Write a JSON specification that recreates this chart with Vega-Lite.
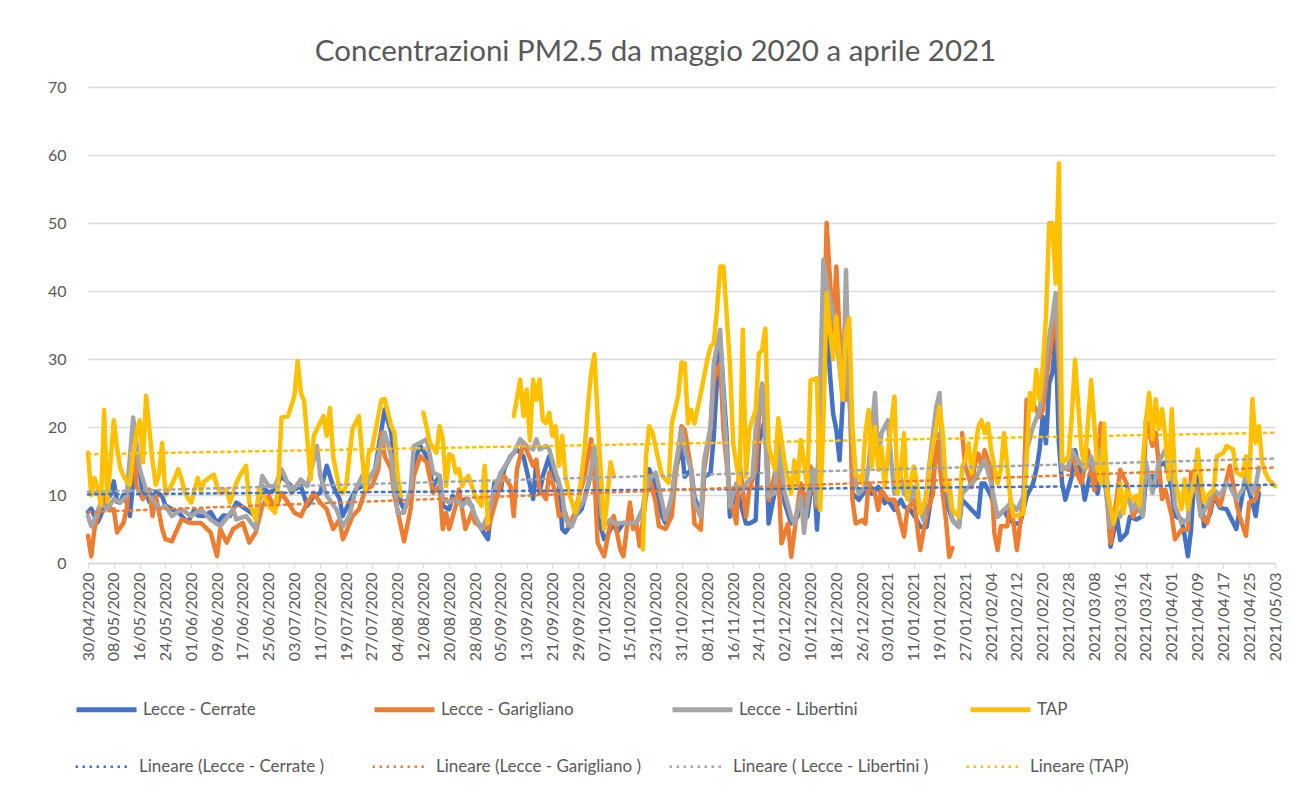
{
"$schema":"https://vega.github.io/schema/vega-lite/v6.json",
"width":1187,"height":476,
"autosize":{"type":"none"},
"padding":{"left":88,"top":87,"right":17,"bottom":236},
"background":"white",
"config":{"view":{"stroke":null},"font":"Lato","axisX":{"labelOverlap":false}},
"title":{"text":"Concentrazioni  PM2.5 da maggio 2020 a aprile 2021","fontSize":29.5,"fontWeight":"normal","color":"#595959","font":"Lato","anchor":"middle","dx":-26,"offset":12},
"data":{"format":{"parse":{"d":"date"}},"values":[
{"s":"C","d":"2020-04-30","v":7.5},{"s":"C","d":"2020-05-01","v":8},{"s":"C","d":"2020-05-02","v":6.9},{"s":"C","d":"2020-05-03","v":6},{"s":"C","d":"2020-05-04","v":7},{"s":"C","d":"2020-05-05","v":8.5},{"s":"C","d":"2020-05-06","v":9.5},{"s":"C","d":"2020-05-07","v":10},{"s":"C","d":"2020-05-08","v":12},{"s":"C","d":"2020-05-09","v":9},{"s":"C","d":"2020-05-10","v":8.9},{"s":"C","d":"2020-05-11","v":10},{"s":"C","d":"2020-05-12","v":8.9},{"s":"C","d":"2020-05-13","v":6.9},{"s":"C","d":"2020-05-14","v":12},{"s":"C","d":"2020-05-15","v":14.8},{"s":"C","d":"2020-05-16","v":13.8},{"s":"C","d":"2020-05-17","v":9.8},{"s":"C","d":"2020-05-18","v":10.5},{"s":"C","d":"2020-05-19","v":9},{"s":"C","d":"2020-05-20","v":8.9},{"s":"C","d":"2020-05-21","v":10.5},{"s":"C","d":"2020-05-23","v":9.8},{"s":"C","d":"2020-05-24","v":8.5},{"s":"C","d":"2020-05-26","v":7.9},{"s":"C","d":"2020-05-28","v":7.5},{"s":"C","d":"2020-05-30","v":6.4},{"s":"C","d":"2020-05-31","v":6},{"s":"C","d":"2020-06-02","v":7.9},{"s":"C","d":"2020-06-03","v":7},{"s":"C","d":"2020-06-05","v":6.9},{"s":"C","d":"2020-06-07","v":7.5},{"s":"C","d":"2020-06-09","v":5.9},{"s":"C","d":"2020-06-11","v":7},{"s":"C","d":"2020-06-13","v":6.9},{"s":"C","d":"2020-06-14","v":7.9},{"s":"C","d":"2020-06-15","v":8.9},{"s":"C","d":"2020-06-18","v":7.9},{"s":"C","d":"2020-06-21","v":6.9},{"s":"C","d":"2020-06-23","v":11.3},{"s":"C","d":"2020-06-25","v":10.3},{"s":"C","d":"2020-06-27","v":10.8},{"s":"C","d":"2020-06-29","v":12.8},{"s":"C","d":"2020-07-01","v":11.8},{"s":"C","d":"2020-07-03","v":10.8},{"s":"C","d":"2020-07-05","v":11.3},{"s":"C","d":"2020-07-07","v":8.4},{"s":"C","d":"2020-07-09","v":9.9},{"s":"C","d":"2020-07-11","v":10.3},{"s":"C","d":"2020-07-13","v":14.3},{"s":"C","d":"2020-07-15","v":11.3},{"s":"C","d":"2020-07-17","v":9.4},{"s":"C","d":"2020-07-18","v":6.9},{"s":"C","d":"2020-07-20","v":8.9},{"s":"C","d":"2020-07-22","v":10.8},{"s":"C","d":"2020-07-24","v":11.3},{"s":"C","d":"2020-07-26","v":12.3},{"s":"C","d":"2020-07-28","v":13.8},{"s":"C","d":"2020-07-30","v":19.7},{"s":"C","d":"2020-07-31","v":22.6},{"s":"C","d":"2020-08-02","v":19.2},{"s":"C","d":"2020-08-03","v":14.8},{"s":"C","d":"2020-08-05","v":8.9},{"s":"C","d":"2020-08-06","v":7.9},{"s":"C","d":"2020-08-08","v":9.9},{"s":"C","d":"2020-08-09","v":14.8},{"s":"C","d":"2020-08-11","v":17.2},{"s":"C","d":"2020-08-13","v":15.7},{"s":"C","d":"2020-08-15","v":11.3},{"s":"C","d":"2020-08-17","v":12.8},{"s":"C","d":"2020-08-18","v":8.4},{"s":"C","d":"2020-08-20","v":7.9},{"s":"C","d":"2020-08-21","v":9.9},{"s":"C","d":"2020-08-23","v":8.9},{"s":"C","d":"2020-08-25","v":9.4},{"s":"C","d":"2020-08-27","v":8.4},{"s":"C","d":"2020-08-28","v":6.4},{"s":"C","d":"2020-08-30","v":5},{"s":"C","d":"2020-09-01","v":3.5},{"s":"C","d":"2020-09-02","v":7.9},{"s":"C","d":"2020-09-03","v":11.8},{"s":"C","d":"2020-09-05","v":10.8},{"s":"C","d":"2020-09-06","v":13.8},{"s":"C","d":"2020-09-08","v":15.7},{"s":"C","d":"2020-09-10","v":16.7},{"s":"C","d":"2020-09-12","v":15.7},{"s":"C","d":"2020-09-15","v":9.4},{"s":"C","d":"2020-09-16","v":14.8},{"s":"C","d":"2020-09-17","v":10.3},{"s":"C","d":"2020-09-18","v":12.8},{"s":"C","d":"2020-09-20","v":15.7},{"s":"C","d":"2020-09-21","v":12.8},{"s":"C","d":"2020-09-23","v":11.8},{"s":"C","d":"2020-09-24","v":5},{"s":"C","d":"2020-09-25","v":4.5},{"s":"C","d":"2020-09-27","v":5.9},{"s":"C","d":"2020-09-28","v":6.9},{"s":"C","d":"2020-09-30","v":7.9},{"s":"C","d":"2020-10-02","v":11.3},{"s":"C","d":"2020-10-04","v":15.7},{"s":"C","d":"2020-10-05","v":6.9},{"s":"C","d":"2020-10-07","v":3.5},{"s":"C","d":"2020-10-08","v":4},{"s":"C","d":"2020-10-10","v":5.9},{"s":"C","d":"2020-10-11","v":4.5},{"s":"C","d":"2020-10-13","v":5.9},{"s":"C","d":"2020-10-14","v":5.9},{"s":"C","d":"2020-10-17","v":5.9},{"s":"C","d":"2020-10-19","v":7.9},{"s":"C","d":"2020-10-21","v":13.8},{"s":"C","d":"2020-10-23","v":11.3},{"s":"C","d":"2020-10-25","v":6.9},{"s":"C","d":"2020-10-26","v":5.9},{"s":"C","d":"2020-10-28","v":9.4},{"s":"C","d":"2020-10-29","v":13.3},{"s":"C","d":"2020-10-31","v":17.2},{"s":"C","d":"2020-11-01","v":12.7},{"s":"C","d":"2020-11-03","v":13.7},{"s":"C","d":"2020-11-04","v":9.8},{"s":"C","d":"2020-11-06","v":6.8},{"s":"C","d":"2020-11-07","v":12.7},{"s":"C","d":"2020-11-09","v":13.2},{"s":"C","d":"2020-11-10","v":18.6},{"s":"C","d":"2020-11-11","v":26.9},{"s":"C","d":"2020-11-12","v":32.8},{"s":"C","d":"2020-11-14","v":18.6},{"s":"C","d":"2020-11-15","v":6.8},{"s":"C","d":"2020-11-17","v":11.2},{"s":"C","d":"2020-11-18","v":9.3},{"s":"C","d":"2020-11-20","v":5.8},{"s":"C","d":"2020-11-21","v":5.8},{"s":"C","d":"2020-11-23","v":6.3},{"s":"C","d":"2020-11-24","v":17.6},{"s":"C","d":"2020-11-26","v":21.5},{"s":"C","d":"2020-11-27","v":5.8},{"s":"C","d":"2020-11-29","v":10.7},{"s":"C","d":"2020-11-30","v":16.6},{"s":"C","d":"2020-12-02","v":8.8},{"s":"C","d":"2020-12-04","v":5.8},{"s":"C","d":"2020-12-06","v":6.8},{"s":"C","d":"2020-12-07","v":9.8},{"s":"C","d":"2020-12-09","v":6.8},{"s":"C","d":"2020-12-11","v":13.7},{"s":"C","d":"2020-12-12","v":4.9},{"s":"C","d":"2020-12-13","v":13.7},{"s":"C","d":"2020-12-15","v":36},{"s":"C","d":"2020-12-16","v":28},{"s":"C","d":"2020-12-17","v":22},{"s":"C","d":"2020-12-18","v":19.6},{"s":"C","d":"2020-12-19","v":15.1},{"s":"C","d":"2020-12-20","v":24},{"s":"C","d":"2020-12-22","v":32.3},{"s":"C","d":"2020-12-23","v":10.2},{"s":"C","d":"2020-12-25","v":9.3},{"s":"C","d":"2020-12-27","v":10.7},{"s":"C","d":"2020-12-28","v":11.7},{"s":"C","d":"2020-12-29","v":10.2},{"s":"C","d":"2020-12-31","v":11.2},{"s":"C","d":"2021-01-02","v":8.8},{"s":"C","d":"2021-01-03","v":9.3},{"s":"C","d":"2021-01-05","v":7.8},{"s":"C","d":"2021-01-07","v":9.3},{"s":"C","d":"2021-01-08","v":8.3},{"s":"C","d":"2021-01-10","v":7.8},{"s":"C","d":"2021-01-12","v":6.3},{"s":"C","d":"2021-01-13","v":5.3},{"s":"C","d":"2021-01-15","v":5.3},{"s":"C","d":"2021-01-17","v":11.7},{"s":"C","d":"2021-01-18","v":19.1},{"s":"C","d":"2021-01-20","v":14.2},{"s":"C","d":"2021-01-21","v":9.3},{"s":"C","d":"2021-01-23","v":6.3},{"s":"C","d":"2021-01-25","v":5.3},{"s":"C","d":"2021-01-26","v":9.3},{"s":"C","d":"2021-01-28","v":8.3},{"s":"C","d":"2021-01-29","v":7.8},{"s":"C","d":"2021-01-31","v":6.8},{"s":"C","d":"2021-02-01","v":11.7},{"s":"C","d":"2021-02-02","v":11.7},{"s":"C","d":"2021-02-04","v":9.8},{"s":"C","d":"2021-02-06","v":6.8},{"s":"C","d":"2021-02-08","v":7.8},{"s":"C","d":"2021-02-09","v":6.8},{"s":"C","d":"2021-02-11","v":5.8},{"s":"C","d":"2021-02-13","v":5.8},{"s":"C","d":"2021-02-15","v":9.8},{"s":"C","d":"2021-02-17","v":11.7},{"s":"C","d":"2021-02-18","v":13.7},{"s":"C","d":"2021-02-19","v":16.6},{"s":"C","d":"2021-02-20","v":21.5},{"s":"C","d":"2021-02-21","v":17.6},{"s":"C","d":"2021-02-22","v":26.4},{"s":"C","d":"2021-02-23","v":28},{"s":"C","d":"2021-02-24","v":33.3},{"s":"C","d":"2021-02-25","v":17.6},{"s":"C","d":"2021-02-26","v":11.7},{"s":"C","d":"2021-02-27","v":9.3},{"s":"C","d":"2021-03-01","v":12.7},{"s":"C","d":"2021-03-02","v":16.6},{"s":"C","d":"2021-03-04","v":12.7},{"s":"C","d":"2021-03-05","v":9.3},{"s":"C","d":"2021-03-07","v":13.7},{"s":"C","d":"2021-03-09","v":10.2},{"s":"C","d":"2021-03-11","v":16.6},{"s":"C","d":"2021-03-12","v":11.7},{"s":"C","d":"2021-03-13","v":2.4},{"s":"C","d":"2021-03-15","v":6.8},{"s":"C","d":"2021-03-16","v":3.4},{"s":"C","d":"2021-03-18","v":4.4},{"s":"C","d":"2021-03-19","v":6.8},{"s":"C","d":"2021-03-21","v":6.4},{"s":"C","d":"2021-03-23","v":6.9},{"s":"C","d":"2021-03-24","v":12.3},{"s":"C","d":"2021-03-26","v":12.8},{"s":"C","d":"2021-03-27","v":11.3},{"s":"C","d":"2021-03-28","v":14.3},{"s":"C","d":"2021-03-30","v":14.8},{"s":"C","d":"2021-04-01","v":10.8},{"s":"C","d":"2021-04-02","v":6.9},{"s":"C","d":"2021-04-04","v":6.4},{"s":"C","d":"2021-04-05","v":4},{"s":"C","d":"2021-04-06","v":1},{"s":"C","d":"2021-04-07","v":5},{"s":"C","d":"2021-04-08","v":13.3},{"s":"C","d":"2021-04-10","v":11.3},{"s":"C","d":"2021-04-11","v":5.4},{"s":"C","d":"2021-04-13","v":7.4},{"s":"C","d":"2021-04-14","v":9.9},{"s":"C","d":"2021-04-16","v":8.1},{"s":"C","d":"2021-04-18","v":7.9},{"s":"C","d":"2021-04-19","v":6.9},{"s":"C","d":"2021-04-21","v":5},{"s":"C","d":"2021-04-23","v":10.3},{"s":"C","d":"2021-04-24","v":12.3},{"s":"C","d":"2021-04-26","v":8.9},{"s":"C","d":"2021-04-27","v":6.9},{"s":"C","d":"2021-04-28","v":10.3},
{"s":"G","d":"2020-04-30","v":4},{"s":"G","d":"2020-05-01","v":1},{"s":"G","d":"2020-05-02","v":5},{"s":"G","d":"2020-05-03","v":6.9},{"s":"G","d":"2020-05-05","v":9.9},{"s":"G","d":"2020-05-07","v":7.9},{"s":"G","d":"2020-05-08","v":7.9},{"s":"G","d":"2020-05-09","v":4.5},{"s":"G","d":"2020-05-11","v":5.9},{"s":"G","d":"2020-05-12","v":7.9},{"s":"G","d":"2020-05-14","v":19.2},{"s":"G","d":"2020-05-15","v":11.3},{"s":"G","d":"2020-05-17","v":9.4},{"s":"G","d":"2020-05-19","v":10.8},{"s":"G","d":"2020-05-20","v":6.9},{"s":"G","d":"2020-05-21","v":9.9},{"s":"G","d":"2020-05-23","v":5},{"s":"G","d":"2020-05-24","v":3.5},{"s":"G","d":"2020-05-26","v":3.2},{"s":"G","d":"2020-05-29","v":6.4},{"s":"G","d":"2020-06-01","v":5.9},{"s":"G","d":"2020-06-04","v":5.9},{"s":"G","d":"2020-06-07","v":4.5},{"s":"G","d":"2020-06-09","v":1},{"s":"G","d":"2020-06-10","v":5},{"s":"G","d":"2020-06-12","v":3},{"s":"G","d":"2020-06-14","v":5},{"s":"G","d":"2020-06-17","v":5.9},{"s":"G","d":"2020-06-19","v":3},{"s":"G","d":"2020-06-21","v":4.5},{"s":"G","d":"2020-06-23","v":8.4},{"s":"G","d":"2020-06-25","v":9.9},{"s":"G","d":"2020-06-27","v":7.9},{"s":"G","d":"2020-06-29","v":10.3},{"s":"G","d":"2020-07-01","v":8.9},{"s":"G","d":"2020-07-03","v":7.4},{"s":"G","d":"2020-07-05","v":6.9},{"s":"G","d":"2020-07-07","v":8.9},{"s":"G","d":"2020-07-09","v":10.3},{"s":"G","d":"2020-07-11","v":8.9},{"s":"G","d":"2020-07-13","v":7.9},{"s":"G","d":"2020-07-15","v":5},{"s":"G","d":"2020-07-17","v":6.4},{"s":"G","d":"2020-07-18","v":3.5},{"s":"G","d":"2020-07-19","v":4.5},{"s":"G","d":"2020-07-21","v":6.9},{"s":"G","d":"2020-07-23","v":7.9},{"s":"G","d":"2020-07-25","v":10.8},{"s":"G","d":"2020-07-27","v":11.3},{"s":"G","d":"2020-07-29","v":13.8},{"s":"G","d":"2020-07-30","v":19.2},{"s":"G","d":"2020-07-31","v":15.7},{"s":"G","d":"2020-08-02","v":13.8},{"s":"G","d":"2020-08-03","v":9.9},{"s":"G","d":"2020-08-05","v":5.4},{"s":"G","d":"2020-08-06","v":3.2},{"s":"G","d":"2020-08-08","v":7.9},{"s":"G","d":"2020-08-09","v":12.8},{"s":"G","d":"2020-08-11","v":15.7},{"s":"G","d":"2020-08-13","v":14.8},{"s":"G","d":"2020-08-15","v":10.3},{"s":"G","d":"2020-08-17","v":11.3},{"s":"G","d":"2020-08-18","v":5},{"s":"G","d":"2020-08-19","v":7.4},{"s":"G","d":"2020-08-20","v":5},{"s":"G","d":"2020-08-22","v":8.4},{"s":"G","d":"2020-08-23","v":10.8},{"s":"G","d":"2020-08-25","v":5},{"s":"G","d":"2020-08-27","v":7.4},{"s":"G","d":"2020-08-28","v":5.9},{"s":"G","d":"2020-08-30","v":5.4},{"s":"G","d":"2020-09-01","v":5},{"s":"G","d":"2020-09-03","v":8.4},{"s":"G","d":"2020-09-05","v":11.8},{"s":"G","d":"2020-09-06","v":12.8},{"s":"G","d":"2020-09-08","v":11.3},{"s":"G","d":"2020-09-09","v":6.9},{"s":"G","d":"2020-09-10","v":13.8},{"s":"G","d":"2020-09-12","v":17.7},{"s":"G","d":"2020-09-15","v":14.3},{"s":"G","d":"2020-09-16","v":15.2},{"s":"G","d":"2020-09-17","v":10.8},{"s":"G","d":"2020-09-19","v":9.4},{"s":"G","d":"2020-09-20","v":13.3},{"s":"G","d":"2020-09-22","v":10.3},{"s":"G","d":"2020-09-23","v":6.9},{"s":"G","d":"2020-09-25","v":7.4},{"s":"G","d":"2020-09-26","v":5.4},{"s":"G","d":"2020-09-28","v":7.4},{"s":"G","d":"2020-09-29","v":9.4},{"s":"G","d":"2020-10-01","v":12.8},{"s":"G","d":"2020-10-03","v":18.2},{"s":"G","d":"2020-10-04","v":12.8},{"s":"G","d":"2020-10-05","v":3},{"s":"G","d":"2020-10-07","v":1},{"s":"G","d":"2020-10-09","v":5.9},{"s":"G","d":"2020-10-10","v":6.9},{"s":"G","d":"2020-10-12","v":2},{"s":"G","d":"2020-10-13","v":1},{"s":"G","d":"2020-10-15","v":8.9},{"s":"G","d":"2020-10-16","v":5},{"s":"G","d":"2020-10-17","v":5.9},{"s":"G","d":"2020-10-18","v":2.5},{"s":"G","d":"2020-10-20","v":9.9},{"s":"G","d":"2020-10-21","v":12.8},{"s":"G","d":"2020-10-23","v":8.9},{"s":"G","d":"2020-10-24","v":5.4},{"s":"G","d":"2020-10-26","v":5},{"s":"G","d":"2020-10-28","v":6.9},{"s":"G","d":"2020-10-29","v":12.3},{"s":"G","d":"2020-10-31","v":20.1},{"s":"G","d":"2020-11-01","v":19.6},{"s":"G","d":"2020-11-03","v":13.7},{"s":"G","d":"2020-11-04","v":5.8},{"s":"G","d":"2020-11-06","v":4.9},{"s":"G","d":"2020-11-07","v":13.7},{"s":"G","d":"2020-11-09","v":19.6},{"s":"G","d":"2020-11-10","v":26.9},{"s":"G","d":"2020-11-12","v":29.4},{"s":"G","d":"2020-11-13","v":19.6},{"s":"G","d":"2020-11-15","v":9.8},{"s":"G","d":"2020-11-17","v":5.8},{"s":"G","d":"2020-11-18","v":14.7},{"s":"G","d":"2020-11-20","v":6.8},{"s":"G","d":"2020-11-21","v":10.7},{"s":"G","d":"2020-11-23","v":13.7},{"s":"G","d":"2020-11-24","v":21.5},{"s":"G","d":"2020-11-26","v":25.9},{"s":"G","d":"2020-11-27","v":9.3},{"s":"G","d":"2020-11-29","v":13.2},{"s":"G","d":"2020-11-30","v":13.7},{"s":"G","d":"2020-12-01","v":2.9},{"s":"G","d":"2020-12-03","v":5.8},{"s":"G","d":"2020-12-04","v":0.9},{"s":"G","d":"2020-12-06","v":8.3},{"s":"G","d":"2020-12-07","v":11.7},{"s":"G","d":"2020-12-09","v":8.3},{"s":"G","d":"2020-12-10","v":14.2},{"s":"G","d":"2020-12-12","v":8.3},{"s":"G","d":"2020-12-13","v":9},{"s":"G","d":"2020-12-14","v":30},{"s":"G","d":"2020-12-15","v":50},{"s":"G","d":"2020-12-16","v":42},{"s":"G","d":"2020-12-17","v":34},{"s":"G","d":"2020-12-18","v":43.6},{"s":"G","d":"2020-12-19","v":33.8},{"s":"G","d":"2020-12-21","v":24},{"s":"G","d":"2020-12-22","v":28.9},{"s":"G","d":"2020-12-23","v":9.3},{"s":"G","d":"2020-12-24","v":5.8},{"s":"G","d":"2020-12-26","v":6.3},{"s":"G","d":"2020-12-27","v":5.8},{"s":"G","d":"2020-12-28","v":11.7},{"s":"G","d":"2020-12-30","v":10.2},{"s":"G","d":"2020-12-31","v":7.8},{"s":"G","d":"2021-01-01","v":10.7},{"s":"G","d":"2021-01-03","v":9.3},{"s":"G","d":"2021-01-05","v":9.3},{"s":"G","d":"2021-01-06","v":7.8},{"s":"G","d":"2021-01-08","v":3.9},{"s":"G","d":"2021-01-09","v":7.8},{"s":"G","d":"2021-01-11","v":9.3},{"s":"G","d":"2021-01-13","v":1.9},{"s":"G","d":"2021-01-15","v":7.3},{"s":"G","d":"2021-01-17","v":10.2},{"s":"G","d":"2021-01-18","v":19.1},{"s":"G","d":"2021-01-20","v":10.2},{"s":"G","d":"2021-01-21","v":6.3},{"s":"G","d":"2021-01-22","v":0.9},{"s":"G","d":"2021-01-23","v":2.2},{"s":"G","d":"2021-01-24","v":null},{"s":"G","d":"2021-01-26","v":19.1},{"s":"G","d":"2021-01-27","v":14.2},{"s":"G","d":"2021-01-29","v":11.2},{"s":"G","d":"2021-01-30","v":14.7},{"s":"G","d":"2021-01-31","v":16.1},{"s":"G","d":"2021-02-01","v":14.2},{"s":"G","d":"2021-02-02","v":16.6},{"s":"G","d":"2021-02-04","v":13.7},{"s":"G","d":"2021-02-05","v":4.4},{"s":"G","d":"2021-02-06","v":1.9},{"s":"G","d":"2021-02-07","v":5.4},{"s":"G","d":"2021-02-09","v":5.4},{"s":"G","d":"2021-02-10","v":9.3},{"s":"G","d":"2021-02-12","v":1.9},{"s":"G","d":"2021-02-13","v":5.8},{"s":"G","d":"2021-02-14","v":9.3},{"s":"G","d":"2021-02-15","v":24},{"s":"G","d":"2021-02-17","v":23.5},{"s":"G","d":"2021-02-19","v":21.5},{"s":"G","d":"2021-02-20","v":22.5},{"s":"G","d":"2021-02-22","v":30.4},{"s":"G","d":"2021-02-24","v":36.2},{"s":"G","d":"2021-02-25","v":28.9},{"s":"G","d":"2021-02-26","v":14.2},{"s":"G","d":"2021-02-28","v":13.7},{"s":"G","d":"2021-03-01","v":16.6},{"s":"G","d":"2021-03-03","v":12.7},{"s":"G","d":"2021-03-04","v":11.7},{"s":"G","d":"2021-03-06","v":16.6},{"s":"G","d":"2021-03-08","v":10.7},{"s":"G","d":"2021-03-10","v":20.5},{"s":"G","d":"2021-03-11","v":14.7},{"s":"G","d":"2021-03-13","v":2.9},{"s":"G","d":"2021-03-14","v":6},{"s":"G","d":"2021-03-16","v":13.7},{"s":"G","d":"2021-03-18","v":11.7},{"s":"G","d":"2021-03-20","v":6.8},{"s":"G","d":"2021-03-21","v":7.9},{"s":"G","d":"2021-03-23","v":7.4},{"s":"G","d":"2021-03-24","v":21.1},{"s":"G","d":"2021-03-26","v":17.2},{"s":"G","d":"2021-03-27","v":19.2},{"s":"G","d":"2021-03-29","v":9.4},{"s":"G","d":"2021-03-30","v":10.8},{"s":"G","d":"2021-04-01","v":6.9},{"s":"G","d":"2021-04-02","v":3.5},{"s":"G","d":"2021-04-04","v":4.9},{"s":"G","d":"2021-04-06","v":4.9},{"s":"G","d":"2021-04-07","v":13.3},{"s":"G","d":"2021-04-09","v":10.8},{"s":"G","d":"2021-04-10","v":6.9},{"s":"G","d":"2021-04-12","v":5.9},{"s":"G","d":"2021-04-14","v":10.3},{"s":"G","d":"2021-04-16","v":8.4},{"s":"G","d":"2021-04-17","v":10.3},{"s":"G","d":"2021-04-19","v":14.3},{"s":"G","d":"2021-04-21","v":8.9},{"s":"G","d":"2021-04-22","v":6.9},{"s":"G","d":"2021-04-24","v":4},{"s":"G","d":"2021-04-25","v":8.9},{"s":"G","d":"2021-04-27","v":9.4},{"s":"G","d":"2021-04-28","v":11.3},
{"s":"L","d":"2020-04-30","v":6.9},{"s":"L","d":"2020-05-01","v":5.4},{"s":"L","d":"2020-05-02","v":6.4},{"s":"L","d":"2020-05-04","v":8.9},{"s":"L","d":"2020-05-06","v":7.9},{"s":"L","d":"2020-05-08","v":9.4},{"s":"L","d":"2020-05-10","v":8.9},{"s":"L","d":"2020-05-12","v":9.9},{"s":"L","d":"2020-05-14","v":21.4},{"s":"L","d":"2020-05-16","v":13.8},{"s":"L","d":"2020-05-18","v":10.8},{"s":"L","d":"2020-05-20","v":9.4},{"s":"L","d":"2020-05-22","v":7.9},{"s":"L","d":"2020-05-24","v":8.4},{"s":"L","d":"2020-05-26","v":6.9},{"s":"L","d":"2020-05-29","v":7.9},{"s":"L","d":"2020-06-01","v":6.9},{"s":"L","d":"2020-06-04","v":7.9},{"s":"L","d":"2020-06-07","v":6.4},{"s":"L","d":"2020-06-10","v":5.4},{"s":"L","d":"2020-06-14","v":7.9},{"s":"L","d":"2020-06-15","v":6.4},{"s":"L","d":"2020-06-18","v":6.9},{"s":"L","d":"2020-06-21","v":5},{"s":"L","d":"2020-06-23","v":12.8},{"s":"L","d":"2020-06-25","v":11.3},{"s":"L","d":"2020-06-27","v":11.3},{"s":"L","d":"2020-06-29","v":13.8},{"s":"L","d":"2020-06-30","v":12.8},{"s":"L","d":"2020-07-02","v":10.3},{"s":"L","d":"2020-07-05","v":12.3},{"s":"L","d":"2020-07-07","v":11.3},{"s":"L","d":"2020-07-10","v":17.2},{"s":"L","d":"2020-07-11","v":12.8},{"s":"L","d":"2020-07-13","v":9.9},{"s":"L","d":"2020-07-16","v":7.9},{"s":"L","d":"2020-07-18","v":5.4},{"s":"L","d":"2020-07-20","v":6.9},{"s":"L","d":"2020-07-22","v":10.8},{"s":"L","d":"2020-07-24","v":12.8},{"s":"L","d":"2020-07-26","v":12.3},{"s":"L","d":"2020-07-28","v":13.8},{"s":"L","d":"2020-07-30","v":17.7},{"s":"L","d":"2020-07-31","v":19.2},{"s":"L","d":"2020-08-02","v":15.7},{"s":"L","d":"2020-08-04","v":7.4},{"s":"L","d":"2020-08-06","v":7.4},{"s":"L","d":"2020-08-08","v":10.8},{"s":"L","d":"2020-08-09","v":17.2},{"s":"L","d":"2020-08-11","v":17.7},{"s":"L","d":"2020-08-13","v":18.2},{"s":"L","d":"2020-08-15","v":13.3},{"s":"L","d":"2020-08-17","v":12.8},{"s":"L","d":"2020-08-18","v":9.4},{"s":"L","d":"2020-08-20","v":8.9},{"s":"L","d":"2020-08-22","v":9.4},{"s":"L","d":"2020-08-24","v":8.4},{"s":"L","d":"2020-08-26","v":9.4},{"s":"L","d":"2020-08-28","v":6.9},{"s":"L","d":"2020-08-30","v":5},{"s":"L","d":"2020-09-01","v":6.9},{"s":"L","d":"2020-09-03","v":10.8},{"s":"L","d":"2020-09-05","v":13.3},{"s":"L","d":"2020-09-07","v":14.8},{"s":"L","d":"2020-09-09","v":16.2},{"s":"L","d":"2020-09-11","v":18.2},{"s":"L","d":"2020-09-13","v":17.2},{"s":"L","d":"2020-09-15","v":16.7},{"s":"L","d":"2020-09-16","v":18.2},{"s":"L","d":"2020-09-17","v":16.7},{"s":"L","d":"2020-09-19","v":17.2},{"s":"L","d":"2020-09-20","v":16.7},{"s":"L","d":"2020-09-22","v":13.3},{"s":"L","d":"2020-09-24","v":10.3},{"s":"L","d":"2020-09-25","v":6.4},{"s":"L","d":"2020-09-27","v":5.4},{"s":"L","d":"2020-09-29","v":7.9},{"s":"L","d":"2020-10-01","v":9.4},{"s":"L","d":"2020-10-03","v":13.8},{"s":"L","d":"2020-10-04","v":17.2},{"s":"L","d":"2020-10-06","v":8.4},{"s":"L","d":"2020-10-07","v":5.4},{"s":"L","d":"2020-10-09","v":6.4},{"s":"L","d":"2020-10-10","v":5.9},{"s":"L","d":"2020-10-12","v":5.9},{"s":"L","d":"2020-10-14","v":5.9},{"s":"L","d":"2020-10-17","v":5.9},{"s":"L","d":"2020-10-19","v":7.9},{"s":"L","d":"2020-10-21","v":12.3},{"s":"L","d":"2020-10-23","v":13.3},{"s":"L","d":"2020-10-25","v":8.9},{"s":"L","d":"2020-10-26","v":6.4},{"s":"L","d":"2020-10-28","v":9.9},{"s":"L","d":"2020-10-29","v":13.8},{"s":"L","d":"2020-10-31","v":19.7},{"s":"L","d":"2020-11-01","v":16.6},{"s":"L","d":"2020-11-03","v":13.7},{"s":"L","d":"2020-11-04","v":8.8},{"s":"L","d":"2020-11-06","v":6.8},{"s":"L","d":"2020-11-07","v":15.1},{"s":"L","d":"2020-11-09","v":20},{"s":"L","d":"2020-11-10","v":29.4},{"s":"L","d":"2020-11-12","v":34.3},{"s":"L","d":"2020-11-13","v":24.5},{"s":"L","d":"2020-11-15","v":8.3},{"s":"L","d":"2020-11-17","v":11.7},{"s":"L","d":"2020-11-19","v":10.7},{"s":"L","d":"2020-11-20","v":11.7},{"s":"L","d":"2020-11-22","v":12.7},{"s":"L","d":"2020-11-23","v":19.6},{"s":"L","d":"2020-11-25","v":26.4},{"s":"L","d":"2020-11-27","v":9.8},{"s":"L","d":"2020-11-29","v":10.3},{"s":"L","d":"2020-11-30","v":17.6},{"s":"L","d":"2020-12-02","v":10.3},{"s":"L","d":"2020-12-04","v":6.8},{"s":"L","d":"2020-12-05","v":5.8},{"s":"L","d":"2020-12-07","v":9.8},{"s":"L","d":"2020-12-08","v":4.4},{"s":"L","d":"2020-12-09","v":8.8},{"s":"L","d":"2020-12-11","v":13.7},{"s":"L","d":"2020-12-12","v":8.8},{"s":"L","d":"2020-12-14","v":44.6},{"s":"L","d":"2020-12-15","v":41.2},{"s":"L","d":"2020-12-17","v":36.8},{"s":"L","d":"2020-12-18","v":33.8},{"s":"L","d":"2020-12-20","v":24},{"s":"L","d":"2020-12-21","v":43.1},{"s":"L","d":"2020-12-22","v":24},{"s":"L","d":"2020-12-24","v":11.7},{"s":"L","d":"2020-12-25","v":10.2},{"s":"L","d":"2020-12-27","v":11.2},{"s":"L","d":"2020-12-28","v":14.2},{"s":"L","d":"2020-12-30","v":25},{"s":"L","d":"2020-12-31","v":15.1},{"s":"L","d":"2021-01-01","v":19.1},{"s":"L","d":"2021-01-03","v":21},{"s":"L","d":"2021-01-04","v":15.1},{"s":"L","d":"2021-01-05","v":10.2},{"s":"L","d":"2021-01-07","v":12.7},{"s":"L","d":"2021-01-08","v":10.2},{"s":"L","d":"2021-01-10","v":9.3},{"s":"L","d":"2021-01-11","v":11.2},{"s":"L","d":"2021-01-13","v":7.8},{"s":"L","d":"2021-01-14","v":6.3},{"s":"L","d":"2021-01-16","v":15.1},{"s":"L","d":"2021-01-18","v":23},{"s":"L","d":"2021-01-19","v":25},{"s":"L","d":"2021-01-20","v":14.2},{"s":"L","d":"2021-01-22","v":9.3},{"s":"L","d":"2021-01-23","v":6.3},{"s":"L","d":"2021-01-25","v":5.3},{"s":"L","d":"2021-01-26","v":10.2},{"s":"L","d":"2021-01-28","v":11.2},{"s":"L","d":"2021-01-30","v":12.2},{"s":"L","d":"2021-02-01","v":14.2},{"s":"L","d":"2021-02-02","v":15.1},{"s":"L","d":"2021-02-04","v":11.7},{"s":"L","d":"2021-02-06","v":6.8},{"s":"L","d":"2021-02-08","v":7.8},{"s":"L","d":"2021-02-10","v":8.8},{"s":"L","d":"2021-02-12","v":7.8},{"s":"L","d":"2021-02-14","v":9.8},{"s":"L","d":"2021-02-15","v":16.6},{"s":"L","d":"2021-02-17","v":20},{"s":"L","d":"2021-02-19","v":22.5},{"s":"L","d":"2021-02-20","v":25.4},{"s":"L","d":"2021-02-21","v":30.3},{"s":"L","d":"2021-02-23","v":36.2},{"s":"L","d":"2021-02-24","v":39.7},{"s":"L","d":"2021-02-25","v":31.3},{"s":"L","d":"2021-02-26","v":13.7},{"s":"L","d":"2021-02-28","v":14.2},{"s":"L","d":"2021-03-01","v":16.6},{"s":"L","d":"2021-03-03","v":15.1},{"s":"L","d":"2021-03-05","v":13.7},{"s":"L","d":"2021-03-07","v":15.6},{"s":"L","d":"2021-03-08","v":13.7},{"s":"L","d":"2021-03-10","v":16.6},{"s":"L","d":"2021-03-11","v":12.7},{"s":"L","d":"2021-03-13","v":5.3},{"s":"L","d":"2021-03-15","v":7.8},{"s":"L","d":"2021-03-16","v":6.8},{"s":"L","d":"2021-03-18","v":9.8},{"s":"L","d":"2021-03-20","v":7.8},{"s":"L","d":"2021-03-21","v":8.9},{"s":"L","d":"2021-03-23","v":6.9},{"s":"L","d":"2021-03-24","v":14.8},{"s":"L","d":"2021-03-26","v":10.3},{"s":"L","d":"2021-03-28","v":14.8},{"s":"L","d":"2021-03-30","v":16.7},{"s":"L","d":"2021-04-01","v":13.8},{"s":"L","d":"2021-04-02","v":8.4},{"s":"L","d":"2021-04-04","v":5.9},{"s":"L","d":"2021-04-06","v":6.4},{"s":"L","d":"2021-04-07","v":11.8},{"s":"L","d":"2021-04-09","v":9.9},{"s":"L","d":"2021-04-10","v":6.9},{"s":"L","d":"2021-04-12","v":8.4},{"s":"L","d":"2021-04-14","v":10.8},{"s":"L","d":"2021-04-16","v":9.9},{"s":"L","d":"2021-04-18","v":11.8},{"s":"L","d":"2021-04-19","v":11.3},{"s":"L","d":"2021-04-21","v":9.4},{"s":"L","d":"2021-04-23","v":10.8},{"s":"L","d":"2021-04-24","v":13.3},{"s":"L","d":"2021-04-26","v":10.3},{"s":"L","d":"2021-04-27","v":11.3},{"s":"L","d":"2021-04-28","v":14},
{"s":"T","d":"2020-04-30","v":16.2},{"s":"T","d":"2020-05-01","v":10},{"s":"T","d":"2020-05-02","v":12.5},{"s":"T","d":"2020-05-03","v":11},{"s":"T","d":"2020-05-04","v":8.5},{"s":"T","d":"2020-05-05","v":22.5},{"s":"T","d":"2020-05-06","v":9},{"s":"T","d":"2020-05-08","v":21},{"s":"T","d":"2020-05-09","v":17},{"s":"T","d":"2020-05-10","v":14},{"s":"T","d":"2020-05-11","v":12.8},{"s":"T","d":"2020-05-12","v":12},{"s":"T","d":"2020-05-13","v":11.5},{"s":"T","d":"2020-05-14","v":16},{"s":"T","d":"2020-05-15","v":19},{"s":"T","d":"2020-05-16","v":21},{"s":"T","d":"2020-05-17","v":14.8},{"s":"T","d":"2020-05-18","v":24.6},{"s":"T","d":"2020-05-19","v":19.7},{"s":"T","d":"2020-05-20","v":15},{"s":"T","d":"2020-05-21","v":11.5},{"s":"T","d":"2020-05-22","v":13},{"s":"T","d":"2020-05-23","v":17.7},{"s":"T","d":"2020-05-24","v":10},{"s":"T","d":"2020-05-26","v":11.5},{"s":"T","d":"2020-05-28","v":13.8},{"s":"T","d":"2020-05-29","v":12.3},{"s":"T","d":"2020-05-30","v":10.5},{"s":"T","d":"2020-05-31","v":9.5},{"s":"T","d":"2020-06-01","v":8.9},{"s":"T","d":"2020-06-03","v":12.5},{"s":"T","d":"2020-06-04","v":10.5},{"s":"T","d":"2020-06-05","v":12},{"s":"T","d":"2020-06-08","v":13},{"s":"T","d":"2020-06-09","v":11.3},{"s":"T","d":"2020-06-10","v":10.3},{"s":"T","d":"2020-06-12","v":10.8},{"s":"T","d":"2020-06-13","v":8.9},{"s":"T","d":"2020-06-15","v":11.8},{"s":"T","d":"2020-06-16","v":12.8},{"s":"T","d":"2020-06-18","v":14.3},{"s":"T","d":"2020-06-19","v":8.9},{"s":"T","d":"2020-06-21","v":6.4},{"s":"T","d":"2020-06-22","v":10.8},{"s":"T","d":"2020-06-24","v":9.4},{"s":"T","d":"2020-06-25","v":8.4},{"s":"T","d":"2020-06-27","v":7.4},{"s":"T","d":"2020-06-28","v":11.8},{"s":"T","d":"2020-06-29","v":21.4},{"s":"T","d":"2020-07-01","v":21.6},{"s":"T","d":"2020-07-02","v":23.1},{"s":"T","d":"2020-07-03","v":24.6},{"s":"T","d":"2020-07-04","v":29.7},{"s":"T","d":"2020-07-05","v":25},{"s":"T","d":"2020-07-06","v":23.8},{"s":"T","d":"2020-07-07","v":18.2},{"s":"T","d":"2020-07-08","v":12.3},{"s":"T","d":"2020-07-09","v":18.7},{"s":"T","d":"2020-07-10","v":19.7},{"s":"T","d":"2020-07-12","v":21.6},{"s":"T","d":"2020-07-13","v":18.7},{"s":"T","d":"2020-07-14","v":22.8},{"s":"T","d":"2020-07-15","v":15.7},{"s":"T","d":"2020-07-17","v":10.8},{"s":"T","d":"2020-07-18","v":10.3},{"s":"T","d":"2020-07-19","v":11.3},{"s":"T","d":"2020-07-21","v":19.7},{"s":"T","d":"2020-07-23","v":21.6},{"s":"T","d":"2020-07-24","v":15.7},{"s":"T","d":"2020-07-25","v":10.8},{"s":"T","d":"2020-07-26","v":16.2},{"s":"T","d":"2020-07-27","v":16.7},{"s":"T","d":"2020-07-29","v":21.6},{"s":"T","d":"2020-07-30","v":24},{"s":"T","d":"2020-07-31","v":24.1},{"s":"T","d":"2020-08-02","v":20.1},{"s":"T","d":"2020-08-03","v":19.2},{"s":"T","d":"2020-08-04","v":12.8},{"s":"T","d":"2020-08-05","v":9.9},{"s":"T","d":"2020-08-08","v":null},{"s":"T","d":"2020-08-12","v":22.1},{"s":"T","d":"2020-08-14","v":17.7},{"s":"T","d":"2020-08-16","v":16.2},{"s":"T","d":"2020-08-17","v":20.1},{"s":"T","d":"2020-08-18","v":18.2},{"s":"T","d":"2020-08-19","v":11.3},{"s":"T","d":"2020-08-20","v":16},{"s":"T","d":"2020-08-21","v":15.7},{"s":"T","d":"2020-08-22","v":13.3},{"s":"T","d":"2020-08-23","v":13.8},{"s":"T","d":"2020-08-24","v":11.3},{"s":"T","d":"2020-08-25","v":12.3},{"s":"T","d":"2020-08-26","v":12.8},{"s":"T","d":"2020-08-28","v":9.9},{"s":"T","d":"2020-08-30","v":8.4},{"s":"T","d":"2020-08-31","v":14.3},{"s":"T","d":"2020-09-01","v":5.9},{"s":"T","d":"2020-09-05","v":null},{"s":"T","d":"2020-09-09","v":21.6},{"s":"T","d":"2020-09-11","v":27},{"s":"T","d":"2020-09-12","v":21.6},{"s":"T","d":"2020-09-13","v":25.5},{"s":"T","d":"2020-09-14","v":18},{"s":"T","d":"2020-09-15","v":27},{"s":"T","d":"2020-09-16","v":24},{"s":"T","d":"2020-09-17","v":27},{"s":"T","d":"2020-09-18","v":21},{"s":"T","d":"2020-09-19","v":20.6},{"s":"T","d":"2020-09-20","v":22.1},{"s":"T","d":"2020-09-21","v":18.7},{"s":"T","d":"2020-09-22","v":20.1},{"s":"T","d":"2020-09-23","v":14.3},{"s":"T","d":"2020-09-24","v":18.7},{"s":"T","d":"2020-09-25","v":13},{"s":"T","d":"2020-09-26","v":10.5},{"s":"T","d":"2020-09-27","v":9},{"s":"T","d":"2020-09-28","v":7.4},{"s":"T","d":"2020-09-29","v":9},{"s":"T","d":"2020-09-30","v":12.8},{"s":"T","d":"2020-10-01","v":17},{"s":"T","d":"2020-10-02","v":23.1},{"s":"T","d":"2020-10-03","v":28},{"s":"T","d":"2020-10-04","v":30.7},{"s":"T","d":"2020-10-05","v":21.6},{"s":"T","d":"2020-10-06","v":13.3},{"s":"T","d":"2020-10-07","v":5},{"s":"T","d":"2020-10-08","v":9.4},{"s":"T","d":"2020-10-09","v":14.8},{"s":"T","d":"2020-10-10","v":12.8},{"s":"T","d":"2020-10-14","v":null},{"s":"T","d":"2020-10-19","v":2},{"s":"T","d":"2020-10-20","v":15.7},{"s":"T","d":"2020-10-21","v":20.1},{"s":"T","d":"2020-10-22","v":19.2},{"s":"T","d":"2020-10-24","v":14.8},{"s":"T","d":"2020-10-25","v":12.8},{"s":"T","d":"2020-10-27","v":11.8},{"s":"T","d":"2020-10-28","v":20.6},{"s":"T","d":"2020-10-30","v":24.6},{"s":"T","d":"2020-10-31","v":29.5},{"s":"T","d":"2020-11-01","v":29.4},{"s":"T","d":"2020-11-02","v":20.5},{"s":"T","d":"2020-11-03","v":22.5},{"s":"T","d":"2020-11-04","v":20.5},{"s":"T","d":"2020-11-06","v":25},{"s":"T","d":"2020-11-08","v":29.9},{"s":"T","d":"2020-11-09","v":31.8},{"s":"T","d":"2020-11-10","v":32.3},{"s":"T","d":"2020-11-11","v":37.2},{"s":"T","d":"2020-11-12","v":43.6},{"s":"T","d":"2020-11-13","v":43.6},{"s":"T","d":"2020-11-15","v":29.4},{"s":"T","d":"2020-11-16","v":17.6},{"s":"T","d":"2020-11-18","v":11.7},{"s":"T","d":"2020-11-19","v":34.3},{"s":"T","d":"2020-11-20","v":12.7},{"s":"T","d":"2020-11-21","v":19.6},{"s":"T","d":"2020-11-23","v":22.5},{"s":"T","d":"2020-11-24","v":30.8},{"s":"T","d":"2020-11-25","v":31.3},{"s":"T","d":"2020-11-26","v":34.5},{"s":"T","d":"2020-11-27","v":17.1},{"s":"T","d":"2020-11-29","v":13.7},{"s":"T","d":"2020-11-30","v":21.3},{"s":"T","d":"2020-12-02","v":14.7},{"s":"T","d":"2020-12-04","v":10.2},{"s":"T","d":"2020-12-05","v":15.1},{"s":"T","d":"2020-12-06","v":11.7},{"s":"T","d":"2020-12-07","v":18.1},{"s":"T","d":"2020-12-09","v":11.2},{"s":"T","d":"2020-12-10","v":26.9},{"s":"T","d":"2020-12-12","v":27.2},{"s":"T","d":"2020-12-13","v":7.8},{"s":"T","d":"2020-12-14","v":21},{"s":"T","d":"2020-12-15","v":39.7},{"s":"T","d":"2020-12-16","v":34.3},{"s":"T","d":"2020-12-17","v":30},{"s":"T","d":"2020-12-18","v":36.2},{"s":"T","d":"2020-12-19","v":30.3},{"s":"T","d":"2020-12-20","v":24},{"s":"T","d":"2020-12-21","v":34},{"s":"T","d":"2020-12-22","v":36},{"s":"T","d":"2020-12-23","v":20},{"s":"T","d":"2020-12-24","v":13},{"s":"T","d":"2020-12-25","v":12.7},{"s":"T","d":"2020-12-26","v":11.7},{"s":"T","d":"2020-12-27","v":19.1},{"s":"T","d":"2020-12-28","v":22.5},{"s":"T","d":"2020-12-29","v":14.2},{"s":"T","d":"2020-12-30","v":20},{"s":"T","d":"2020-12-31","v":13.7},{"s":"T","d":"2021-01-01","v":17.1},{"s":"T","d":"2021-01-02","v":11.2},{"s":"T","d":"2021-01-03","v":16.1},{"s":"T","d":"2021-01-05","v":24.5},{"s":"T","d":"2021-01-06","v":10.2},{"s":"T","d":"2021-01-07","v":13.2},{"s":"T","d":"2021-01-08","v":19.1},{"s":"T","d":"2021-01-09","v":9.3},{"s":"T","d":"2021-01-11","v":14.2},{"s":"T","d":"2021-01-12","v":11.7},{"s":"T","d":"2021-01-13","v":7.3},{"s":"T","d":"2021-01-15","v":9.8},{"s":"T","d":"2021-01-16","v":14.7},{"s":"T","d":"2021-01-18","v":20},{"s":"T","d":"2021-01-19","v":23},{"s":"T","d":"2021-01-20","v":19.1},{"s":"T","d":"2021-01-21","v":10.7},{"s":"T","d":"2021-01-22","v":11.7},{"s":"T","d":"2021-01-23","v":7.8},{"s":"T","d":"2021-01-25","v":6.8},{"s":"T","d":"2021-01-26","v":14.2},{"s":"T","d":"2021-01-27","v":15.1},{"s":"T","d":"2021-01-28","v":17.6},{"s":"T","d":"2021-01-29","v":13.2},{"s":"T","d":"2021-01-31","v":20},{"s":"T","d":"2021-02-01","v":21},{"s":"T","d":"2021-02-02","v":19.1},{"s":"T","d":"2021-02-03","v":20.5},{"s":"T","d":"2021-02-04","v":16.6},{"s":"T","d":"2021-02-06","v":11.7},{"s":"T","d":"2021-02-07","v":13.7},{"s":"T","d":"2021-02-08","v":19.1},{"s":"T","d":"2021-02-10","v":9.3},{"s":"T","d":"2021-02-11","v":6.8},{"s":"T","d":"2021-02-12","v":7},{"s":"T","d":"2021-02-14","v":7.3},{"s":"T","d":"2021-02-15","v":15.1},{"s":"T","d":"2021-02-16","v":25},{"s":"T","d":"2021-02-17","v":22.5},{"s":"T","d":"2021-02-18","v":28.4},{"s":"T","d":"2021-02-19","v":24},{"s":"T","d":"2021-02-20","v":28.9},{"s":"T","d":"2021-02-21","v":36.2},{"s":"T","d":"2021-02-22","v":50},{"s":"T","d":"2021-02-23","v":50},{"s":"T","d":"2021-02-24","v":41.1},{"s":"T","d":"2021-02-25","v":58.8},{"s":"T","d":"2021-02-26","v":14.7},{"s":"T","d":"2021-02-28","v":15.6},{"s":"T","d":"2021-03-01","v":21.5},{"s":"T","d":"2021-03-02","v":29.9},{"s":"T","d":"2021-03-04","v":16.6},{"s":"T","d":"2021-03-05","v":14.2},{"s":"T","d":"2021-03-07","v":26.9},{"s":"T","d":"2021-03-09","v":13.7},{"s":"T","d":"2021-03-10","v":11.7},{"s":"T","d":"2021-03-11","v":20.5},{"s":"T","d":"2021-03-12","v":10.7},{"s":"T","d":"2021-03-14","v":5.8},{"s":"T","d":"2021-03-15","v":7.8},{"s":"T","d":"2021-03-16","v":11.7},{"s":"T","d":"2021-03-17","v":7.3},{"s":"T","d":"2021-03-18","v":10.7},{"s":"T","d":"2021-03-20","v":9.3},{"s":"T","d":"2021-03-21","v":9.9},{"s":"T","d":"2021-03-22","v":8.4},{"s":"T","d":"2021-03-24","v":21.1},{"s":"T","d":"2021-03-25","v":25},{"s":"T","d":"2021-03-26","v":18.2},{"s":"T","d":"2021-03-27","v":24.1},{"s":"T","d":"2021-03-28","v":19.7},{"s":"T","d":"2021-03-29","v":22.6},{"s":"T","d":"2021-03-30","v":18.7},{"s":"T","d":"2021-03-31","v":12.3},{"s":"T","d":"2021-04-01","v":22.6},{"s":"T","d":"2021-04-02","v":12.3},{"s":"T","d":"2021-04-04","v":7.9},{"s":"T","d":"2021-04-05","v":12.3},{"s":"T","d":"2021-04-06","v":7.9},{"s":"T","d":"2021-04-08","v":12.3},{"s":"T","d":"2021-04-09","v":16.7},{"s":"T","d":"2021-04-10","v":12.5},{"s":"T","d":"2021-04-11","v":8.9},{"s":"T","d":"2021-04-12","v":9.9},{"s":"T","d":"2021-04-14","v":10.8},{"s":"T","d":"2021-04-15","v":15.7},{"s":"T","d":"2021-04-17","v":16.2},{"s":"T","d":"2021-04-18","v":17.2},{"s":"T","d":"2021-04-20","v":16.7},{"s":"T","d":"2021-04-21","v":13.3},{"s":"T","d":"2021-04-23","v":12.8},{"s":"T","d":"2021-04-24","v":15.7},{"s":"T","d":"2021-04-25","v":11.8},{"s":"T","d":"2021-04-26","v":24.1},{"s":"T","d":"2021-04-27","v":17.7},{"s":"T","d":"2021-04-28","v":20.1},{"s":"T","d":"2021-04-29","v":14.8},{"s":"T","d":"2021-04-30","v":13.3},{"s":"T","d":"2021-05-01","v":12.3},{"s":"T","d":"2021-05-03","v":11.3}
]},
"encoding":{
  "x":{"field":"d","type":"temporal","scale":{"type":"utc","domain":[{"year":2020,"month":4,"date":30,"utc":true},{"year":2021,"month":5,"date":3,"utc":true}]},
   "axis":{"title":null,"grid":false,"ticks":true,"tickSize":5,"tickColor":"#d9d9d9","domainColor":"#d9d9d9","domainWidth":1.5,"labelAngle":-90,"labelFontSize":16,"labelColor":"#595959","labelFont":"Lato","labelPadding":4,"labelOverlap":false,"labelSeparation":0,"labelFlush":false,"labelBound":false,
    "labelExpr":"datum.value < utc(2021,1,1) ? utcFormat(datum.value,'%d/%m/%Y') : utcFormat(datum.value,'%Y/%m/%d')",
    "values":[{"year":2020,"month":4,"date":30,"utc":true},{"year":2020,"month":5,"date":8,"utc":true},{"year":2020,"month":5,"date":16,"utc":true},{"year":2020,"month":5,"date":24,"utc":true},{"year":2020,"month":6,"date":1,"utc":true},{"year":2020,"month":6,"date":9,"utc":true},{"year":2020,"month":6,"date":17,"utc":true},{"year":2020,"month":6,"date":25,"utc":true},{"year":2020,"month":7,"date":3,"utc":true},{"year":2020,"month":7,"date":11,"utc":true},{"year":2020,"month":7,"date":19,"utc":true},{"year":2020,"month":7,"date":27,"utc":true},{"year":2020,"month":8,"date":4,"utc":true},{"year":2020,"month":8,"date":12,"utc":true},{"year":2020,"month":8,"date":20,"utc":true},{"year":2020,"month":8,"date":28,"utc":true},{"year":2020,"month":9,"date":5,"utc":true},{"year":2020,"month":9,"date":13,"utc":true},{"year":2020,"month":9,"date":21,"utc":true},{"year":2020,"month":9,"date":29,"utc":true},{"year":2020,"month":10,"date":7,"utc":true},{"year":2020,"month":10,"date":15,"utc":true},{"year":2020,"month":10,"date":23,"utc":true},{"year":2020,"month":10,"date":31,"utc":true},{"year":2020,"month":11,"date":8,"utc":true},{"year":2020,"month":11,"date":16,"utc":true},{"year":2020,"month":11,"date":24,"utc":true},{"year":2020,"month":12,"date":2,"utc":true},{"year":2020,"month":12,"date":10,"utc":true},{"year":2020,"month":12,"date":18,"utc":true},{"year":2020,"month":12,"date":26,"utc":true},{"year":2021,"month":1,"date":3,"utc":true},{"year":2021,"month":1,"date":11,"utc":true},{"year":2021,"month":1,"date":19,"utc":true},{"year":2021,"month":1,"date":27,"utc":true},{"year":2021,"month":2,"date":4,"utc":true},{"year":2021,"month":2,"date":12,"utc":true},{"year":2021,"month":2,"date":20,"utc":true},{"year":2021,"month":2,"date":28,"utc":true},{"year":2021,"month":3,"date":8,"utc":true},{"year":2021,"month":3,"date":16,"utc":true},{"year":2021,"month":3,"date":24,"utc":true},{"year":2021,"month":4,"date":1,"utc":true},{"year":2021,"month":4,"date":9,"utc":true},{"year":2021,"month":4,"date":17,"utc":true},{"year":2021,"month":4,"date":25,"utc":true},{"year":2021,"month":5,"date":3,"utc":true}]}},
  "y":{"field":"v","type":"quantitative","scale":{"domain":[0,70]},
   "axis":{"title":null,"values":[0,10,20,30,40,50,60,70],"domain":false,"ticks":false,"labelFontSize":16,"labelColor":"#595959","labelFont":"Lato","labelPadding":22,"gridColor":"#d9d9d9","gridWidth":1.5}}
},
"layer":[
{"mark":{"type":"line","strokeWidth":4.5,"strokeJoin":"round","strokeCap":"round","invalid":"break-paths-show-domains"},
 "encoding":{
  "color":{"field":"s","type":"nominal","scale":{"domain":["C","G","L","T"],"range":["#4472C4","#ED7D31","#A5A5A5","#FFC000"]},
   "legend":{"title":null,"orient":"none","legendX":-14,"legendY":590,"direction":"horizontal","columns":4,"gridAlign":"all","columnPadding":88,"symbolType":"stroke","symbolSize":3600,"symbolStrokeWidth":5,"labelFontSize":17,"labelColor":"#595959","labelFont":"Lato","labelOffset":4,"labelLimit":400,
    "labelExpr":"datum.label=='C'?'Lecce - Cerrate':datum.label=='G'?'Lecce - Garigliano':datum.label=='L'?'Lecce - Libertini':'TAP'"}}
 }},
{"transform":[{"regression":"v","on":"d","groupby":["s"],"extent":[1588204800000,1620000000000]}],
 "mark":{"type":"line","strokeWidth":2.5,"strokeDash":[2.5,4.5],"strokeCap":"round"},
 "encoding":{
  "color":{"field":"s","type":"nominal","scale":{"domain":["C","G","L","T"],"range":["#4472C4","#ED7D31","#A5A5A5","#FFC000"]},
   "legend":{"title":null,"orient":"none","legendX":-14,"legendY":650,"direction":"horizontal","columns":4,"gridAlign":"all","columnPadding":23,"symbolType":"stroke","symbolSize":3136,"symbolStrokeWidth":2.5,"symbolDash":[2.5,4.5],"labelFontSize":17,"labelColor":"#595959","labelFont":"Lato","labelOffset":6,"labelLimit":400,
    "labelExpr":"datum.label=='C'?'Lineare (Lecce - Cerrate )':datum.label=='G'?'Lineare (Lecce - Garigliano )':datum.label=='L'?'Lineare ( Lecce - Libertini )':'Lineare (TAP)'"}}
 }}
],
"resolve":{"scale":{"color":"independent"}}
}
